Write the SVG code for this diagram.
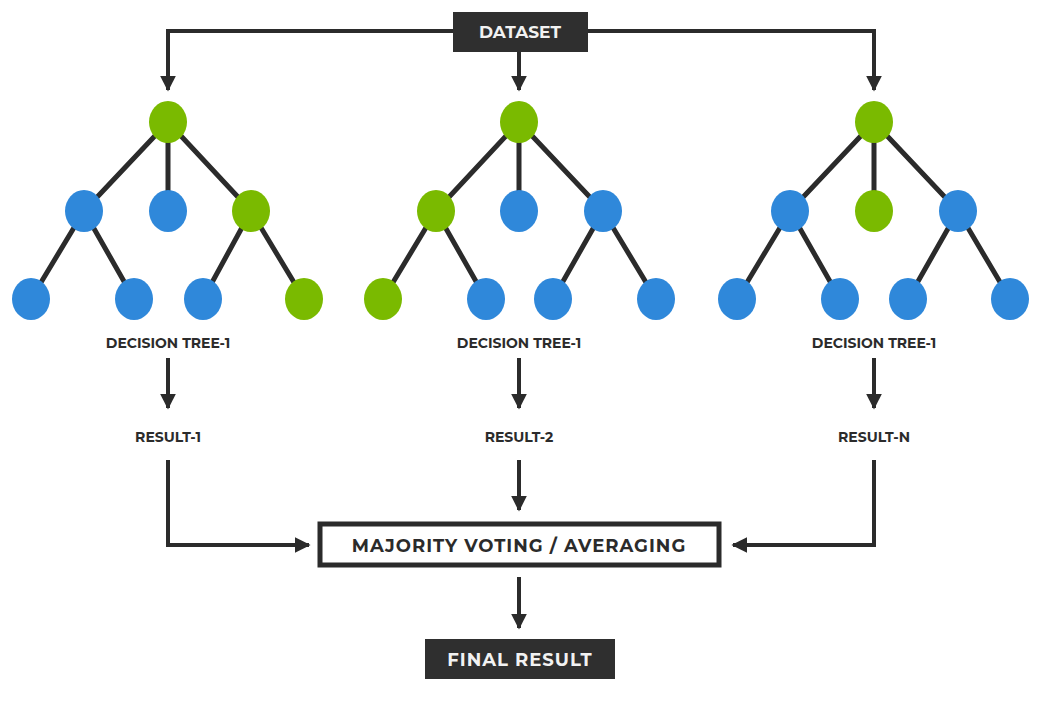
<svg xmlns="http://www.w3.org/2000/svg" width="1044" height="712" viewBox="0 0 1044 712">
<style>
.e{stroke:#2b2b2b;stroke-width:5;fill:none}
.a{stroke:#2b2b2b;stroke-width:4;fill:none;marker-end:url(#ah)}
.g{fill:#7aba00}.b{fill:#2f88da}
.t{font-family:"Montserrat","Liberation Sans",Arial,sans-serif;font-weight:bold;fill:#2b2b2b;text-anchor:middle}
.w{fill:#f2f2f2}
</style>
<defs><marker id="ah" viewBox="0 0 10 10" refX="9" refY="5" markerWidth="4" markerHeight="4" orient="auto" markerUnits="strokeWidth"><path d="M0,0L10,5L0,10z" fill="#2b2b2b"/></marker></defs>
<rect width="1044" height="712" fill="#fff"/>
<g id="connectors">
<path class="a" d="M453,31H168V90"/><path class="a" d="M588,31H874V90"/><path class="a" d="M519,52V90"/>
<path class="a" d="M168,358V408"/><path class="a" d="M519,358V408"/><path class="a" d="M874,358V408"/>
<path class="a" d="M168,460V545H309"/><path class="a" d="M519,460V510"/><path class="a" d="M874,460V545H733"/>
<path class="a" d="M519,577V628"/>
</g>
<g id="tree1">
<path class="e" d="M168,122L84,211M168,122V211M168,122L251,211M84,211L31,299M84,211L134,299M251,211L203,299M251,211L304,299"/>
<ellipse class="g" cx="168" cy="122" rx="19" ry="21"/><ellipse class="b" cx="84" cy="211" rx="19" ry="21"/><ellipse class="b" cx="168" cy="211" rx="19" ry="21"/><ellipse class="g" cx="251" cy="211" rx="19" ry="21"/>
<ellipse class="b" cx="31" cy="299" rx="19" ry="21"/><ellipse class="b" cx="134" cy="299" rx="19" ry="21"/><ellipse class="b" cx="203" cy="299" rx="19" ry="21"/><ellipse class="g" cx="304" cy="299" rx="19" ry="21"/>
<text class="t" x="168" y="348" font-size="14">DECISION TREE-1</text>
</g>
<g id="tree2">
<path class="e" d="M519,122L436,211M519,122V211M519,122L603,211M436,211L383,299M436,211L486,299M603,211L553,299M603,211L656,299"/>
<ellipse class="g" cx="519" cy="122" rx="19" ry="21"/><ellipse class="g" cx="436" cy="211" rx="19" ry="21"/><ellipse class="b" cx="519" cy="211" rx="19" ry="21"/><ellipse class="b" cx="603" cy="211" rx="19" ry="21"/>
<ellipse class="g" cx="383" cy="299" rx="19" ry="21"/><ellipse class="b" cx="486" cy="299" rx="19" ry="21"/><ellipse class="b" cx="553" cy="299" rx="19" ry="21"/><ellipse class="b" cx="656" cy="299" rx="19" ry="21"/>
<text class="t" x="519" y="348" font-size="14">DECISION TREE-1</text>
</g>
<g id="tree3">
<path class="e" d="M874,122L790,211M874,122V211M874,122L958,211M790,211L737,299M790,211L840,299M958,211L908,299M958,211L1010,299"/>
<ellipse class="g" cx="874" cy="122" rx="19" ry="21"/><ellipse class="b" cx="790" cy="211" rx="19" ry="21"/><ellipse class="g" cx="874" cy="211" rx="19" ry="21"/><ellipse class="b" cx="958" cy="211" rx="19" ry="21"/>
<ellipse class="b" cx="737" cy="299" rx="19" ry="21"/><ellipse class="b" cx="840" cy="299" rx="19" ry="21"/><ellipse class="b" cx="908" cy="299" rx="19" ry="21"/><ellipse class="b" cx="1010" cy="299" rx="19" ry="21"/>
<text class="t" x="874" y="348" font-size="14">DECISION TREE-1</text>
</g>
<g id="dataset"><rect x="453" y="12" width="135" height="40" fill="#2f2f2f"/><text class="t w" x="520" y="38" font-size="17">DATASET</text></g>
<g id="result1"><text class="t" x="168" y="442" font-size="14">RESULT-1</text></g>
<g id="result2"><text class="t" x="519" y="442" font-size="14">RESULT-2</text></g>
<g id="resultN"><text class="t" x="874" y="442" font-size="14">RESULT-N</text></g>
<g id="majority"><rect x="320" y="524" width="399" height="41" fill="#fff" stroke="#2b2b2b" stroke-width="5"/><text class="t" x="519" y="552" font-size="18" letter-spacing="1">MAJORITY VOTING / AVERAGING</text></g>
<g id="final"><rect x="425" y="639" width="190" height="40" fill="#2f2f2f"/><text class="t w" x="520" y="666" font-size="18" letter-spacing="1">FINAL RESULT</text></g>
</svg>
